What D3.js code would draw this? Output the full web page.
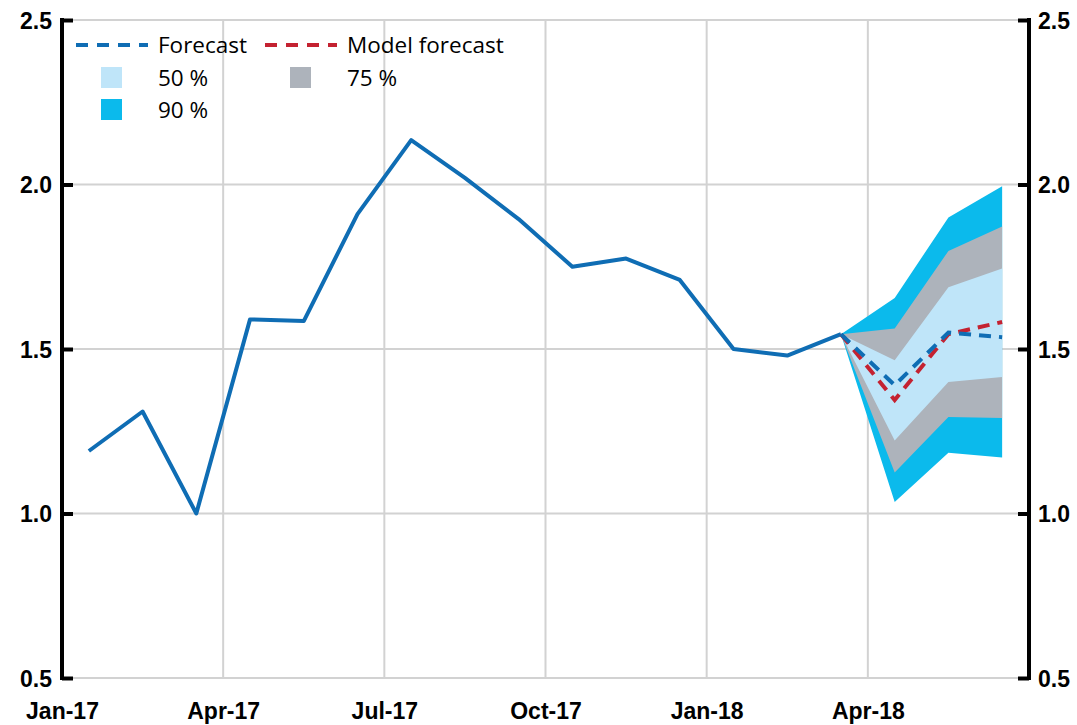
<!DOCTYPE html>
<html>
<head>
<meta charset="utf-8">
<script src="https://cdn.jsdelivr.net/npm/d3@7"></script>
<style>
  body { margin: 0; background: #fff; }
  svg { display: block; }
</style>
</head>
<body>
<svg width="1077" height="725"></svg>
<script>
// month index 0 = Jan-17; points sit in the middle of each month
var xTickMonths = [0, 3, 6, 9, 12, 15];
var xTickLabels = ["Jan-17", "Apr-17", "Jul-17", "Oct-17", "Jan-18", "Apr-18"];
var yTicks = [0.5, 1.0, 1.5, 2.0, 2.5];

var actual = [1.19, 1.31, 1.00, 1.59, 1.585, 1.91, 2.135, 2.02, 1.895, 1.75, 1.775, 1.71, 1.50, 1.48, 1.545];
// forecast months: Mar-18 (14) .. Jun-18 (17)
var fcMonths = [14, 15, 16, 17];
var forecast = [1.545, 1.39, 1.55, 1.536];
var modelForecast = [1.545, 1.345, 1.545, 1.582];
var lo90 = [1.545, 1.035, 1.185, 1.17];
var hi90 = [1.545, 1.655, 1.90, 1.995];
var lo75 = [1.545, 1.125, 1.293, 1.29];
var hi75 = [1.545, 1.562, 1.798, 1.872];
var lo50 = [1.545, 1.222, 1.40, 1.415];
var hi50 = [1.545, 1.466, 1.688, 1.745];

var svg = d3.select("svg");
var pLeft = 62, pRight = 1029, pTop = 20, pBottom = 678;

var x = d3.scaleLinear().domain([0, 18]).range([pLeft, pRight]);
var y = d3.scaleLinear().domain([0.5, 2.5]).range([pBottom, pTop]);

var blue = "#0f6db4", red = "#c42231";

// grid
svg.append("g").selectAll("line").data(yTicks).enter().append("line")
  .attr("x1", pLeft).attr("x2", pRight)
  .attr("y1", function(d) { return y(d); }).attr("y2", function(d) { return y(d); })
  .attr("stroke", "#d2d2d2").attr("stroke-width", 2);
svg.append("g").selectAll("line").data(xTickMonths.slice(1)).enter().append("line")
  .attr("x1", function(d) { return x(d); }).attr("x2", function(d) { return x(d); })
  .attr("y1", pTop).attr("y2", pBottom)
  .attr("stroke", "#d2d2d2").attr("stroke-width", 2);

// fan
function band(lo, hi) {
  return d3.area()
    .x(function(d, i) { return x(fcMonths[i] + 0.5); })
    .y0(function(d, i) { return y(lo[i]); })
    .y1(function(d, i) { return y(hi[i]); })(fcMonths);
}
svg.append("path").attr("d", band(lo90, hi90)).attr("fill", "#0bbaec");
svg.append("path").attr("d", band(lo75, hi75)).attr("fill", "#adb3bb");
svg.append("path").attr("d", band(lo50, hi50)).attr("fill", "#bfe5f9");

// lines
var line = d3.line().x(function(d) { return x(d[0] + 0.5); }).y(function(d) { return y(d[1]); });
svg.append("path")
  .attr("d", line(actual.map(function(v, i) { return [i, v]; })))
  .attr("fill", "none").attr("stroke", blue).attr("stroke-width", 4).attr("stroke-linejoin", "round");
svg.append("path")
  .attr("d", line(modelForecast.map(function(v, i) { return [fcMonths[i], v]; })))
  .attr("fill", "none").attr("stroke", red).attr("stroke-width", 4).attr("stroke-dasharray", "12,8");
svg.append("path")
  .attr("d", line(forecast.map(function(v, i) { return [fcMonths[i], v]; })))
  .attr("fill", "none").attr("stroke", blue).attr("stroke-width", 4).attr("stroke-dasharray", "12,8");

// axes
var tickFont = "'Liberation Sans', Arial, sans-serif";
var yl = svg.append("g").attr("transform", "translate(" + pLeft + ",0)")
  .call(d3.axisLeft(y).tickValues(yTicks).tickFormat(d3.format(".1f")).tickSize(-11).tickPadding(10));
var yr = svg.append("g").attr("transform", "translate(" + pRight + ",0)")
  .call(d3.axisRight(y).tickValues(yTicks).tickFormat(d3.format(".1f")).tickSize(-11).tickPadding(9));
[yl, yr].forEach(function(g) {
  g.select(".domain").attr("stroke", "#000").attr("stroke-width", 4).attr("d", "M0," + (pTop - 2) + "V" + (pBottom + 2));
  g.selectAll(".tick line").attr("stroke", "#000").attr("stroke-width", 4);
  g.selectAll("text").attr("font-family", tickFont).attr("font-weight", "bold").attr("font-size", 23)
    .attr("fill", "#000").attr("dy", "0.36em");
});

var xa = svg.append("g").attr("transform", "translate(0," + pBottom + ")")
  .call(d3.axisBottom(x).tickValues(xTickMonths)
    .tickFormat(function(d, i) { return xTickLabels[i]; }).tickSize(0).tickPadding(25));
xa.select(".domain").remove();
xa.selectAll("text").attr("font-family", tickFont).attr("font-weight", "bold").attr("font-size", 23).attr("fill", "#000");

// legend
var legFont = "'Open Sans', 'Noto Sans', sans-serif";
var lg = svg.append("g").attr("font-family", legFont).attr("font-size", 22.5).attr("fill", "#000");
var dashItems = [{ x: 76, label: "Forecast", c: blue }, { x: 265, label: "Model forecast", c: red }];
dashItems.forEach(function(d) {
  lg.append("line").attr("x1", d.x).attr("x2", d.x + 72).attr("y1", 45).attr("y2", 45)
    .attr("stroke", d.c).attr("stroke-width", 4).attr("stroke-dasharray", "12,9");
  lg.append("text").attr("x", d.x + 82).attr("y", 45).attr("dy", "0.35em").text(d.label);
});
var boxItems = [
  { x: 101, y: 67, label: "50 %", c: "#bfe5f9" },
  { x: 290, y: 67, label: "75 %", c: "#adb3bb" },
  { x: 101, y: 99, label: "90 %", c: "#0bbaec" }
];
boxItems.forEach(function(d) {
  lg.append("rect").attr("x", d.x).attr("y", d.y).attr("width", 21).attr("height", 21).attr("fill", d.c);
  lg.append("text").attr("x", d.x + 57).attr("y", d.y + 11).attr("dy", "0.35em").text(d.label);
});
</script>
</body>
</html>
